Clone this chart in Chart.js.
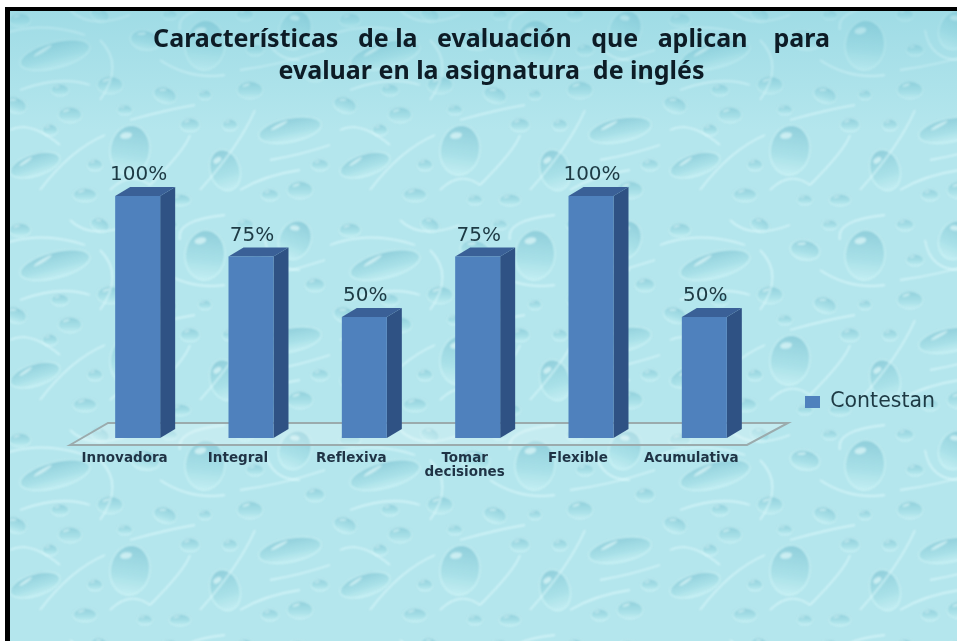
<!DOCTYPE html>
<html lang="es">
<head>
<meta charset="utf-8">
<title>Características de la evaluación</title>
<style>
html,body{margin:0;padding:0;background:#fff;overflow:hidden}
canvas{display:block;filter:blur(0.55px)}
</style>
<script src="https://cdn.jsdelivr.net/npm/chart.js@4"></script>
</head>
<body>
<canvas id="c" width="957" height="641"></canvas>
<script>
const categories = ["Innovadora", "Integral", "Reflexiva", ["Tomar", "decisiones"], "Flexible", "Acumulativa"];
const seriesName = "Contestan";
const values = [100, 75, 50, 75, 100, 50];
const titleLines = ["Características   de la   evaluación   que   aplican    para", "evaluar en la asignatura  de inglés"];

// decorative background droplets: x, y, radiusX, radiusY, rotation
const bigDrops = [
  [55,55,36,13,-0.25],[205,45,20,25,0.1],[290,130,32,12,-0.2],[130,150,20,25,0.15],
  [35,165,26,11,-0.3],[225,170,15,21,-0.3],[145,40,15,10,0.2],[295,30,16,20,0.4]
];
const smallDrops = [
  [20,20,11,7,0],[100,15,10,7,0.4],[110,85,13,9,0],[165,95,12,8,0.3],[250,90,13,9,0],[315,75,10,7,0],
  [70,115,12,8,0],[15,105,12,8,0.3],[190,125,10,7,0],[255,50,9,6,0],[85,195,12,7,0],[180,200,11,6,0],
  [300,190,13,9,0],[270,195,9,6,0],[50,130,8,6,0],[125,110,8,5,0],[205,95,7,5,0],[145,200,8,5,0],
  [60,90,9,6,0],[230,125,8,6,0],[320,165,9,6,0],[170,15,8,5,0],[245,15,9,6,0],[95,165,8,6,0]
];
// decorative light veins between droplets: x0, y0, cx, cy, x1, y1
const veins = [
  [0,35,40,20,85,35],[100,40,125,65,100,100],[160,60,190,80,225,75],[240,70,280,65,325,50],
  [20,90,60,75,90,85],[130,120,165,110,195,105],[255,110,240,145,200,190],[40,190,70,150,105,135],
  [150,185,185,150,190,135],[270,160,300,155,330,145],[10,130,30,120,60,145],[110,190,130,170,150,185],
  [240,190,265,175,300,170],[180,30,175,10,225,5],[265,30,270,60,300,60],[70,10,90,30,130,15]
];

function makeTile(){
  const tile = document.createElement('canvas');
  tile.width = 330; tile.height = 210;
  const t = tile.getContext('2d');
  t.fillStyle = '#b4e6ed';
  t.fillRect(0,0,330,210);
  t.filter = 'blur(1.1px)';
  const wrap = fn => {
    for (const ox of [-330,0,330]) for (const oy of [-210,0,210]) {
      t.save(); t.translate(ox,oy); fn(); t.restore();
    }
  };
  const drop = (d, big) => wrap(() => {
    t.translate(d[0], d[1]);
    t.rotate(d[4]);
    const g = t.createLinearGradient(0,-d[3],0,d[3]);
    g.addColorStop(0,'rgba(134,200,214,0.8)');
    g.addColorStop(0.6,'rgba(160,220,228,0.6)');
    g.addColorStop(1,'rgba(205,244,247,0.55)');
    t.fillStyle = g;
    t.beginPath(); t.ellipse(0,0,d[2],d[3],0,0,Math.PI*2); t.fill();
    t.strokeStyle = 'rgba(215,248,250,0.6)';
    t.lineWidth = big ? 1.6 : 1.1;
    t.stroke();
    t.fillStyle = 'rgba(235,253,254,0.6)';
    t.beginPath(); t.ellipse(-d[2]*0.3,-d[3]*0.55,d[2]*0.3,d[3]*0.13,-0.3,0,Math.PI*2); t.fill();
  });
  smallDrops.forEach(d => drop(d,false));
  bigDrops.forEach(d => drop(d,true));
  t.strokeStyle = 'rgba(222,250,252,0.7)';
  t.lineWidth = 1.8;
  veins.forEach(v => wrap(() => {
    t.beginPath(); t.moveTo(v[0],v[1]); t.quadraticCurveTo(v[2],v[3],v[4],v[5]); t.stroke();
  }));
  return tile;
}
const tile = makeTile();

const depthX = 15, depthY = 9;
const frontColor = '#4f81bd', sideColor = '#2f5284', topColor = '#3a6097';

const scene = {
  id: 'scene',
  afterLayout(chart){
    const lg = chart.legend;
    const w = lg.width, h = lg.height;
    lg.left = 795; lg.right = 795 + w;
    lg.top = 402 - h/2; lg.bottom = 402 + h/2;
    const tb = chart.titleBlock;
    tb.left = 26; tb.right = 957;
  },
  beforeDraw(chart){
    const c = chart.ctx;
    c.save();
    c.fillStyle = '#fff';
    c.fillRect(0,0,957,641);
    c.fillStyle = c.createPattern(tile,'repeat');
    c.fillRect(5,7,952,634);
    const g = c.createLinearGradient(0,10,0,130);
    g.addColorStop(0,'rgba(120,200,215,0.35)');
    g.addColorStop(1,'rgba(120,200,215,0)');
    c.fillStyle = g;
    c.fillRect(9,10,948,120);
    c.fillStyle = '#000';
    c.fillRect(5,7,952,4);
    c.fillRect(5,7,5,634);
    c.restore();
  },
  beforeDatasetsDraw(chart){
    const c = chart.ctx, area = chart.chartArea;
    const meta = chart.getDatasetMeta(0);
    c.save();
    // floor
    c.beginPath();
    c.moveTo(area.left - 11, area.bottom + 7);
    c.lineTo(area.left + 27, area.bottom - 15);
    c.lineTo(area.right + 27, area.bottom - 15);
    c.lineTo(area.right - 14, area.bottom + 7);
    c.closePath();
    c.fillStyle = 'rgba(235,250,250,0.3)';
    c.fill();
    c.strokeStyle = '#9babad';
    c.lineWidth = 2;
    c.stroke();
    // side and top faces
    meta.data.forEach(bar => {
      const p = bar.getProps(['x','y','base','width'], true);
      const l = p.x - p.width/2, r = p.x + p.width/2;
      c.fillStyle = sideColor;
      c.beginPath();
      c.moveTo(r,p.y); c.lineTo(r+depthX,p.y-depthY);
      c.lineTo(r+depthX,p.base-depthY); c.lineTo(r,p.base);
      c.closePath(); c.fill();
      c.fillStyle = topColor;
      c.beginPath();
      c.moveTo(l,p.y); c.lineTo(l+depthX,p.y-depthY);
      c.lineTo(r+depthX,p.y-depthY); c.lineTo(r,p.y);
      c.closePath(); c.fill();
    });
    c.restore();
  },
  afterDatasetsDraw(chart){
    const c = chart.ctx;
    const meta = chart.getDatasetMeta(0);
    c.save();
    c.font = '20px "DejaVu Sans"';
    c.fillStyle = '#1d3a44';
    c.textAlign = 'center';
    c.textBaseline = 'alphabetic';
    meta.data.forEach((bar,i) => {
      c.fillText(values[i] + '%', bar.x + 1, bar.y - 16);
    });
    c.restore();
  }
};

new Chart(document.getElementById('c'), {
  type: 'bar',
  data: {
    labels: categories,
    datasets: [{
      label: seriesName,
      data: values,
      backgroundColor: frontColor,
      borderWidth: 0,
      categoryPercentage: 1,
      barPercentage: 0.397
    }]
  },
  options: {
    responsive: false,
    animation: false,
    layout: { padding: { left: 81, right: 196, top: 0, bottom: 0 } },
    scales: {
      x: {
        grid: { display: false, drawTicks: false },
        border: { display: false },
        ticks: {
          padding: 14, autoSkip: false, maxRotation: 0, minRotation: 0, labelOffset: -13,
          color: '#1f3345',
          font: { family: '"DejaVu Sans"', weight: 'bold', size: 13.5, lineHeight: 1 }
        },
        afterFit(s){ s.height = 203; }
      },
      y: { display: false, min: 0, max: 100 }
    },
    plugins: {
      tooltip: { enabled: false },
      title: {
        display: true,
        text: titleLines,
        color: '#0d1c26',
        font: { family: '"Noto Sans"', weight: 'bold', size: 25, lineHeight: 1.28 },
        padding: { top: 24, bottom: 108 }
      },
      legend: {
        position: 'chartArea',
        labels: {
          boxWidth: 15, boxHeight: 12, padding: 10,
          color: '#1d3a44',
          font: { family: '"DejaVu Sans"', size: 20.5 }
        }
      }
    }
  },
  plugins: [scene]
});
</script>
</body>
</html>
